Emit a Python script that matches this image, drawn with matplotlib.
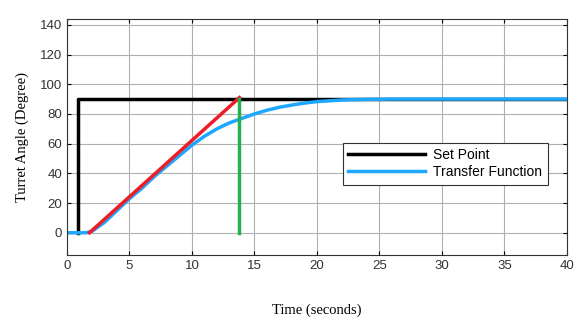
import matplotlib
matplotlib.use("Agg")
from matplotlib import pyplot as plt

# set point (step at t=1)
sp_t = [0.9, 0.9, 40]
sp_y = [0, 90, 90]

# transfer function response
tf_t = [0, 1.5, 2, 3, 4, 5, 6, 7, 8, 9, 10, 11, 12, 13, 14, 15, 16, 17, 18, 19, 20, 22, 24, 26, 30, 40]
tf_y = [0, 0, 1, 7, 15, 23, 30, 38, 45, 52, 59, 65, 70, 74, 77, 80, 82.5, 84.5, 86, 87.3, 88.3, 89.4, 89.8, 90, 90, 90]

# tangent (rise line) and its end marker
red_t = [1.8, 13.8]
red_y = [0, 91]
green_t = [13.8, 13.8]
green_y = [0, 90]

fig = plt.figure(figsize=(5.8, 3.2), dpi=100)
ax = fig.add_axes([0.1155, 0.203, 0.862, 0.738])

ax.plot(sp_t, sp_y, color='black', lw=2.5, label='Set Point')
ax.plot(tf_t, tf_y, color='#1ea7ff', lw=2.5, label='Transfer Function')
ax.plot(red_t, red_y, color='#ee1c24', lw=2.5)
ax.plot(green_t, green_y, color='#22b14c', lw=2.5)

ax.set_xlim(0, 40)
ax.set_ylim(-15, 144)
ax.set_xticks(range(0, 41, 5))
ax.set_yticks(range(0, 141, 20))
ax.grid(True, color='#b0b0b0', lw=0.8)
ax.tick_params(direction='in', top=True, right=True, labelsize=9.5, length=3)
for lbl in ax.get_xticklabels() + ax.get_yticklabels():
    lbl.set_family('Liberation Sans')
    lbl.set_color('#333333')
for s in ax.spines.values():
    s.set_color('#333333')

ax.set_xlabel('Time (seconds)', family='Liberation Serif', fontsize=10.5, labelpad=23)
ax.set_ylabel('Turret Angle (Degree)', family='Liberation Serif', fontsize=10.5, labelpad=8)

leg = ax.legend(loc='upper right', bbox_to_anchor=(0.975, 0.505), fancybox=False,
                edgecolor='#333333', framealpha=1, prop={'family': 'Liberation Sans', 'size': 10},
                handlelength=5.5, borderpad=0.4, labelspacing=0.2, handletextpad=0.6)
leg.get_frame().set_linewidth(0.8)

fig.savefig('out.png', dpi=100)
